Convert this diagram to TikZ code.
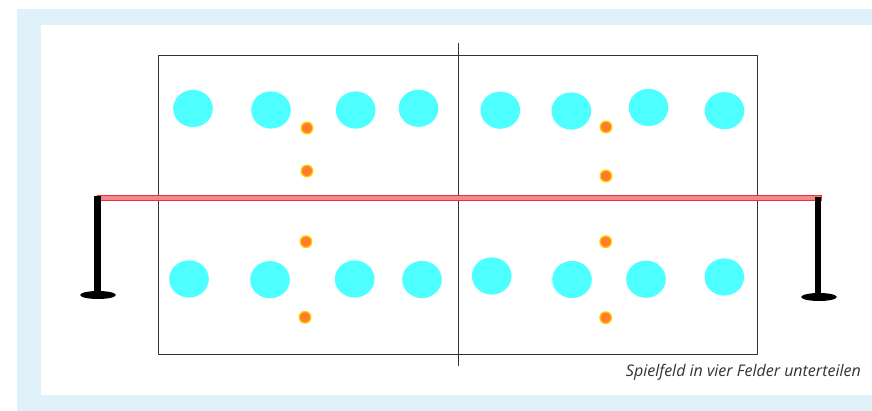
\documentclass[tikz,border=0pt]{standalone}
\usepackage{fontspec}
\setmainfont{Open Sans}
\definecolor{framebg}{RGB}{223,242,250}
\definecolor{playercol}{RGB}{77,255,255}
\definecolor{ballcol}{RGB}{255,125,45}
\definecolor{ballrim}{RGB}{255,205,0}
\definecolor{netcol}{RGB}{232,50,60}
\definecolor{netfill}{RGB}{242,135,142}
\begin{document}
\begin{tikzpicture}[x=1pt,y=-1pt,line join=round,
    player/.style={fill=playercol},
    ball/.style={fill=ballcol,draw=ballrim,line width=1.3pt},
    post/.style={fill=black}]
    \useasboundingbox (0,0) rectangle (872,411);
    % frame
    \fill[framebg] (17,9) rectangle (872,411);
    \fill[white] (41,25) rectangle (872,395);
    % court
    \draw[line width=0.9pt,black!80] (158.5,55) rectangle (757,354.5);
    \draw[line width=0.8pt,black!80] (458.7,42.7)--(458.7,366);
    % players
    \foreach \x/\y in {193/108.5,271/110,355.7/110,418.5/108.3,500.3/110.2,571.3/111,648.5/107.5,724.5/110.7,
                       189/279,270/279.7,354.7/279,422/279.5,491.7/276,572/279.5,646/279.2,724.3/277}
    \fill[player] (\x,\y) ellipse (19.8pt and 18.6pt);
    % balls
    \foreach \x/\y in {307/128,307/171,606/127,606/176,306/241.7,305/317.3,605.7/241.7,605.7/317.7}
    \filldraw[ball] (\x,\y) circle (5.8pt);
    % net and posts
    \filldraw[fill=netfill,draw=netcol,line width=1pt] (97,195.3) rectangle (821,200.3);
    \fill[post] (94.3,196) rectangle (100.7,295);
    \fill[post] (98,295) ellipse (17.8pt and 4pt);
    \fill[post] (815,197) rectangle (821,297);
    \fill[post] (819,297) ellipse (17.8pt and 4pt);
    \node[anchor=base east,inner sep=0pt,text=black!80,font=\itshape\fontsize{16}{19}\selectfont] (caption) at (861,376.7) {Spielfeld in vier Felder unterteilen};
\end{tikzpicture}
\end{document}
